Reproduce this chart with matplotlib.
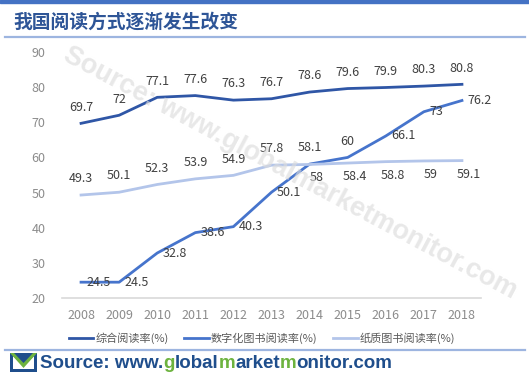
import matplotlib
matplotlib.use('Agg')
import matplotlib.pyplot as plt
from matplotlib.patches import Polygon, Rectangle
from matplotlib.lines import Line2D

plt.rcParams['font.family'] = ['Noto Sans CJK SC', 'DejaVu Sans']

years = [2008, 2009, 2010, 2011, 2012, 2013, 2014, 2015, 2016, 2017, 2018]
total_rate = [69.7, 72, 77.1, 77.6, 76.3, 76.7, 78.6, 79.6, 79.9, 80.3, 80.8]
digital_rate = [24.5, 24.5, 32.8, 38.6, 40.3, 50.1, 58.1, 60, 66.1, 73, 76.2]
paper_rate = [49.3, 50.1, 52.3, 53.9, 54.9, 57.8, 58, 58.4, 58.8, 59, 59.1]
labels = ['综合阅读率(%)', '数字化图书阅读率(%)', '纸质图书阅读率(%)']

# where each data label sits: a=above, b=below, r=right
total_pos = ['a'] * 11
digital_pos = ['r', 'r', 'r', 'r', 'r', 'r', 'a', 'a', 'r', 'r', 'r']
paper_pos = ['a'] * 6 + ['b'] * 5

c_total = '#2f56a6'
c_digital = '#4674cc'
c_paper = '#b3c5ea'

W, H = 529, 376
fig = plt.figure(figsize=(W / 100, H / 100), dpi=100)

def fx(x):
    return x / W

def fy(y):
    return 1 - y / H

# header
fig.patches.append(Rectangle((0, fy(3)), 1, 3 / H, transform=fig.transFigure,
                             color='#4472c4', zorder=0))
fig.text(fx(13), fy(22), '我国阅读方式逐渐发生改变', fontsize=13.5, fontweight='bold',
         color='#2e5597', va='center', ha='left')
fig.add_artist(Line2D([fx(5), fx(525)], [fy(37), fy(37)], color='#9db5e0', lw=1.6))

# watermark
fig.text(fx(290), fy(173), 'Source: www.globalmarketmonitor.com', rotation=-28,
         fontsize=19.5, fontweight='bold', color='#dcdcdc', alpha=0.65,
         family='Liberation Sans', ha='center', va='center', zorder=5)

ax = fig.add_axes([fx(62), fy(298), fx(481) - fx(62), fy(52) - fy(298)])
ax.plot(years, total_rate, color=c_total, lw=2, label=labels[0])
ax.plot(years, digital_rate, color=c_digital, lw=2, label=labels[1])
ax.plot(years, paper_rate, color=c_paper, lw=2, label=labels[2])

def put_labels(vals, pos):
    for x, v, p in zip(years, vals, pos):
        if p == 'a':
            off, ha, va = (0, 7), 'center', 'bottom'
        elif p == 'b':
            off, ha, va = (5, -5), 'center', 'top'
        else:
            off, ha, va = (4, 0), 'left', 'center'
        ax.annotate(f'{v:g}', (x, v), xytext=off, textcoords='offset points',
                    ha=ha, va=va, fontsize=9, color='#404040')

put_labels(total_rate, total_pos)
put_labels(digital_rate, digital_pos)
put_labels(paper_rate, paper_pos)

ax.set_xlim(2007.5, 2018.5)
ax.set_ylim(20, 90)
ax.set_xticks(years)
ax.set_yticks(range(20, 91, 10))
for s in ['top', 'right', 'left']:
    ax.spines[s].set_visible(False)
ax.spines['bottom'].set_color('#d9d9d9')
ax.spines['bottom'].set_linewidth(1.2)
ax.tick_params(length=0, labelsize=9, colors='#8c8c8c', pad=8)
ax.tick_params(axis='y', pad=12)

fig.legend(loc='center', bbox_to_anchor=(fx(262), fy(338)), ncol=3, frameon=False,
           fontsize=8, labelcolor='#595959', handlelength=2.2, handletextpad=0.2,
           columnspacing=1.4)

# footer
fig.add_artist(Line2D([fx(5), fx(525)], [fy(350), fy(350)], color='#9db5e0', lw=1.6))
fig.patches.append(Polygon([(fx(10), fy(372)), (fx(10), fy(353)), (fx(37), fy(353)),
                            (fx(37), fy(372))], closed=True, transform=fig.transFigure,
                           facecolor='#1f4e8c', edgecolor='none'))
fig.patches.append(Polygon([(fx(13), fy(356)), (fx(23.5), fy(366)), (fx(34), fy(356)),
                            (fx(34), fy(369)), (fx(13), fy(369))], closed=True,
                           transform=fig.transFigure, facecolor='white', edgecolor='none'))
fig.patches.append(Polygon([(fx(10), fy(353)), (fx(23.5), fy(368)), (fx(37), fy(353)),
                            (fx(33), fy(353)), (fx(23.5), fy(363)), (fx(14), fy(353))],
                           closed=True, transform=fig.transFigure, facecolor='#6db33f',
                           edgecolor='none'))

parts = [('Source: www.', '#1f4e8c'), ('g', '#6db33f'), ('lobal', '#1f4e8c'),
         ('m', '#6db33f'), ('arket', '#1f4e8c'), ('m', '#6db33f'),
         ('onitor.com', '#1f4e8c')]
prev = None
for txt, col in parts:
    kw = dict(fontsize=13.5, fontweight='bold', color=col, family='Liberation Sans',
              ha='left', va='bottom')
    if prev is None:
        prev = fig.text(fx(40), fy(372), txt, **kw)
    else:
        prev = plt.annotate(txt, xy=(1, 0), xycoords=prev, annotation_clip=False, **kw)

fig.savefig('out.png', dpi=100)
